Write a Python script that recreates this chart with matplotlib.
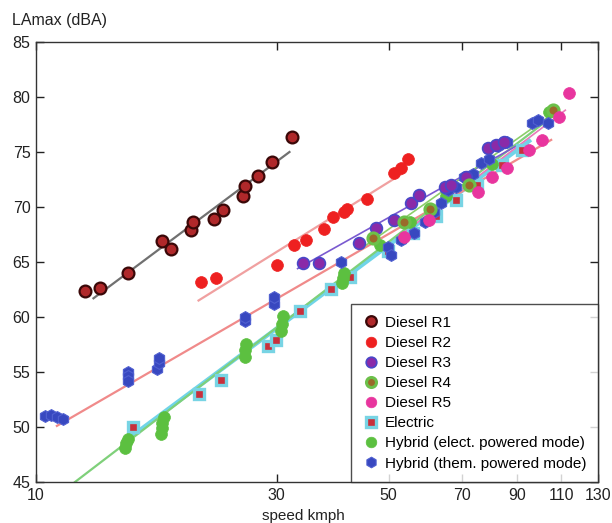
import numpy as np
import matplotlib
matplotlib.use('Agg')
import matplotlib.pyplot as plt
from matplotlib.ticker import FixedLocator, NullLocator

plt.rcParams['font.family'] = ['Liberation Sans', 'DejaVu Sans']

# Diesel R1
r1_speed = [12.5, 13.4, 15.2, 17.8, 18.5, 20.3, 20.5, 22.5, 23.5, 25.7, 26.0, 27.5, 29.3, 32.1]
r1_la = [62.4, 62.6, 64.0, 66.9, 66.2, 67.9, 68.6, 68.9, 69.7, 71.0, 71.9, 72.8, 74.1, 76.4]

# Diesel R2
r2_speed = [21.2, 22.7, 30.0, 32.4, 34.3, 37.2, 38.8, 40.8, 41.3, 45.3, 51.3, 52.9, 54.7]
r2_la = [63.2, 63.5, 64.7, 66.5, 67.0, 68.0, 69.1, 69.5, 69.8, 70.7, 73.1, 73.5, 74.4]

# Diesel R3
r3_speed = [33.9, 36.4, 43.6, 47.2, 51.3, 55.4, 57.5, 64.6, 66.6, 71.2, 78.8, 81.8, 84.7]
r3_la = [64.9, 64.9, 66.7, 68.1, 68.8, 70.4, 71.1, 71.8, 72.0, 72.7, 75.4, 75.6, 75.9]

# Diesel R4
r4_speed = [46.6, 53.6, 60.5, 72.0, 106.0]
r4_la = [67.2, 68.6, 69.8, 72.0, 78.8]

# Diesel R5
r5_speed = [53.7, 60.0, 75.3, 80.0, 86.0, 94.8, 100.5, 108.6, 114.0]
r5_la = [67.3, 68.8, 71.4, 72.7, 73.5, 75.2, 76.1, 78.2, 80.4]

# Electric
el_speed = [15.6, 21.0, 23.3, 28.8, 29.9, 33.4, 38.4, 42.0, 49.9, 56.0, 62.0, 68.0, 75.0, 84.0, 92.0]
el_la = [50.0, 53.0, 54.3, 57.4, 57.9, 60.5, 62.5, 63.6, 66.0, 67.6, 69.2, 70.6, 72.0, 73.8, 75.2]

# Hybrid (elect. powered mode)
he_speed = [15.0, 15.1, 15.2, 17.7, 17.8, 17.8, 17.9, 25.9, 26.0, 26.1, 30.6, 30.8, 30.9,
            40.4, 40.6, 40.8, 48.0, 55.0, 65.0, 80.0, 104.0]
he_la = [48.1, 48.5, 48.9, 49.4, 49.9, 50.4, 50.9, 56.4, 57.0, 57.5, 58.7, 59.4, 60.1,
         63.1, 63.5, 64.0, 66.5, 68.6, 71.0, 73.9, 78.6]

# Hybrid (them. powered mode)
ht_speed = [10.4, 10.7, 11.0, 11.3, 15.2, 15.2, 15.2, 17.4, 17.5, 17.5, 25.9, 25.9, 29.7, 29.7,
            40.2, 49.9, 50.5, 53.0, 56.2, 59.0, 61.5, 63.5, 65.6, 68.0, 70.6, 73.5, 76.3, 79.0,
            82.3, 86.0, 96.0, 99.0, 103.7]
ht_la = [51.0, 51.1, 50.9, 50.7, 55.0, 54.6, 54.2, 55.3, 55.8, 56.3, 59.6, 60.0, 61.2, 61.8,
         65.0, 66.4, 65.6, 67.0, 67.6, 68.6, 69.5, 70.4, 71.5, 71.8, 72.7, 73.0, 74.0, 74.4,
         75.5, 75.9, 77.6, 77.9, 77.6]

# regression lines (end points)
r1_fit_speed, r1_fit_la = [13.0, 31.8], [61.7, 75.0]
r2_fit_speed, r2_fit_la = [21.0, 53.5], [61.5, 73.1]
r3_fit_speed, r3_fit_la = [33.0, 90.0], [64.4, 75.6]
r4_fit_speed, r4_fit_la = [45.0, 106.0], [66.5, 78.5]
r5_fit_speed, r5_fit_la = [52.0, 112.0], [67.2, 78.8]
el_fit_speed, el_fit_la = [15.5, 95.0], [49.2, 76.0]
he_fit_speed, he_fit_la = [11.95, 104.0], [45.0, 78.0]
ht_fit_speed, ht_fit_la = [11.0, 105.0], [50.1, 76.1]

x_ticks = [10, 30, 50, 70, 90, 110, 130]
y_ticks = [45, 50, 55, 60, 65, 70, 75, 80, 85]

fig = plt.figure(figsize=(6.12, 5.23), dpi=100)
ax = fig.add_axes([0.0588, 0.0784, 0.9183, 0.8413])
ax.set_xscale('log')

# fit lines first so markers sit on top
ax.plot(el_fit_speed, el_fit_la, color='#70d4e8', lw=3.0, zorder=2)
ax.plot(ht_fit_speed, ht_fit_la, color='#f08a8a', lw=1.6, zorder=2)
ax.plot(he_fit_speed, he_fit_la, color='#7fd07a', lw=1.6, zorder=2)
ax.plot(r3_fit_speed, r3_fit_la, color='#7a5ad0', lw=1.2, zorder=2)
ax.plot(r4_fit_speed, r4_fit_la, color='#8ccf6a', lw=1.2, zorder=2)
ax.plot(r5_fit_speed, r5_fit_la, color='#ea7ab8', lw=1.2, zorder=2)
ax.plot(r2_fit_speed, r2_fit_la, color='#f0a0a0', lw=1.6, zorder=2)
ax.plot(r1_fit_speed, r1_fit_la, color='#707070', lw=1.6, zorder=2)

ax.plot(r1_speed, r1_la, 'o', ms=8.5, mfc='#b0282a', mec='#3a0808', mew=1.6, ls='none',
        label='Diesel R1', zorder=4)
ax.plot(r2_speed, r2_la, 'o', ms=8.5, mfc='#ee2020', mec='#ee2020', mew=0.5, ls='none',
        label='Diesel R2', zorder=4)
ax.plot(r3_speed, r3_la, 'o', ms=8.5, mfc='#8a2aa8', mec='#4848c8', mew=1.2, ls='none',
        label='Diesel R3', zorder=4)
ax.plot(r4_speed, r4_la, 'o', ms=8.0, mfc='#9a6a2a', mec='#6cc04a', mew=2.2, ls='none',
        label='Diesel R4', zorder=4)
ax.plot(r5_speed, r5_la, 'o', ms=8.5, mfc='#e8359e', mec='#e8359e', mew=0.5, ls='none',
        label='Diesel R5', zorder=4)
ax.plot(el_speed, el_la, 's', ms=7.5, mfc='#c8303c', mec='#78d4e4', mew=2.4, ls='none',
        label='Electric', zorder=3)
ax.plot(he_speed, he_la, 'o', ms=8.5, mfc='#5cc040', mec='#5cc040', mew=0.5, ls='none',
        label='Hybrid (elect. powered mode)', zorder=3)
ax.plot(ht_speed, ht_la, 'h', ms=8.5, mfc='#3848c0', mec='#5060d0', mew=0.8, ls='none',
        label='Hybrid (them. powered mode)', zorder=3)

ax.set_xlim(10, 130)
ax.set_ylim(45, 85)
ax.xaxis.set_major_locator(FixedLocator(x_ticks))
ax.xaxis.set_minor_locator(NullLocator())
ax.set_xticklabels([str(v) for v in x_ticks])
ax.set_yticks(y_ticks)
ax.tick_params(direction='in', top=True, right=True, length=6, width=1,
               labelsize=11.5, colors='#222222', pad=4)
for s in ax.spines.values():
    s.set_color('#333333')
    s.set_linewidth(1)

leg = ax.legend(loc='lower right', fontsize=11, frameon=True, fancybox=False,
                borderaxespad=0, labelspacing=0.4, handletextpad=0.3,
                handlelength=1.2, borderpad=0.75, markerscale=0.9)
leg.get_frame().set_edgecolor('#222222')
leg.get_frame().set_linewidth(1)

fig.text(0.02, 0.953, 'LAmax (dBA)', fontsize=11.5, color='#222222')
fig.text(0.495, 0.006, 'speed kmph', fontsize=11, color='#222222', ha='center')

plt.savefig('out.png', dpi=100)
plt.close()
